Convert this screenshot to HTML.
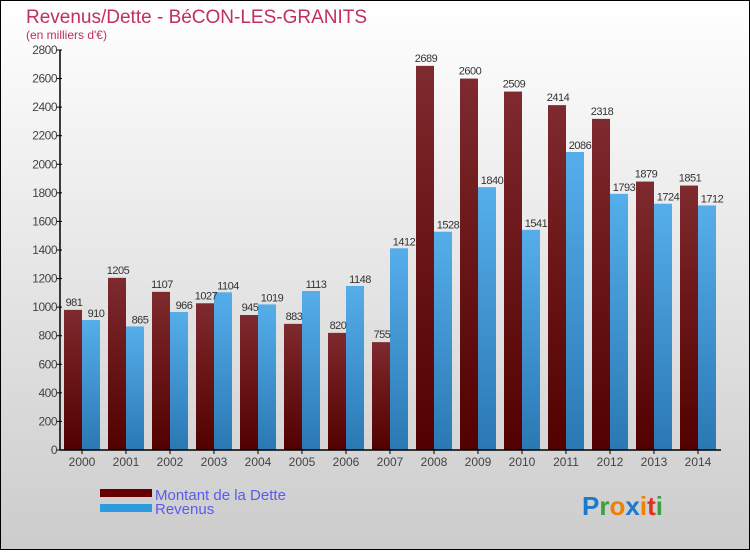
<!DOCTYPE html>
<html><head><meta charset="utf-8"><style>
body{margin:0}
svg text{font-family:"Liberation Sans",sans-serif}
</style></head><body>
<svg width="750" height="550" xmlns="http://www.w3.org/2000/svg">
<defs>
<linearGradient id="bg" x1="0" y1="0" x2="0" y2="1"><stop offset="0" stop-color="#ffffff"/><stop offset="1" stop-color="#cccccc"/></linearGradient>
<linearGradient id="gd" x1="0" y1="0" x2="0" y2="1"><stop offset="0" stop-color="#7f2a2e"/><stop offset="1" stop-color="#520000"/></linearGradient>
<linearGradient id="gr" x1="0" y1="0" x2="0" y2="1"><stop offset="0" stop-color="#55aeea"/><stop offset="1" stop-color="#2a78b4"/></linearGradient>
</defs>
<rect x="0.5" y="0.5" width="749" height="549" fill="url(#bg)" stroke="#000"/>
<text x="26" y="23" font-size="19" fill="#c0305a">Revenus/Dette - BéCON-LES-GRANITS</text>
<text x="26" y="39" font-size="12" fill="#c0305a">(en milliers d'€)</text>
<g id="bars"></g>
<g id="axes"></g>
<rect x="100" y="489" width="52" height="8" fill="#660000"/>
<text x="155" y="500" font-size="15" fill="#5a5aee">Montant de la Dette</text>
<rect x="100" y="504" width="52" height="8" fill="#2d9be0"/>
<text x="155" y="514" font-size="15" fill="#5a5aee">Revenus</text>
<text x="582" y="515" font-size="26" font-weight="bold"><tspan fill="#1a7ad0">P</tspan><tspan fill="#3aa040">r</tspan><tspan fill="#f08000">o</tspan><tspan fill="#1a7ad0">x</tspan><tspan fill="#f08000">i</tspan><tspan fill="#e03020">t</tspan><tspan fill="#3aa040">i</tspan></text>
</svg>
<script>
const years=["2000","2001","2002","2003","2004","2005","2006","2007","2008","2009","2010","2011","2012","2013","2014"];
const dette=[981,1205,1107,1027,945,883,820,755,2689,2600,2509,2414,2318,1879,1851];
const revenus=[910,865,966,1104,1019,1113,1148,1412,1528,1840,1541,2086,1793,1724,1712];
const ticks=[0,200,400,600,800,1000,1200,1400,1600,1800,2000,2200,2400,2600,2800];
const NS="http://www.w3.org/2000/svg";
const x0=60,gw=44,yb=450,yt=50,ymax=2800;
const y=v=>yb-(v/ymax)*(yb-yt);
const bars=document.getElementById('bars'),axes=document.getElementById('axes');
function mk(tag,attrs,parent){const e=document.createElementNS(NS,tag);for(const k in attrs)e.setAttribute(k,attrs[k]);parent.appendChild(e);return e;}
years.forEach((yr,i)=>{
  const gx=x0+i*gw;
  let r=mk('rect',{x:gx+4,y:y(dette[i]),width:18,height:yb-y(dette[i]),fill:'url(#gd)'},bars);
  
  
  r=mk('rect',{x:gx+22,y:y(revenus[i]),width:18,height:yb-y(revenus[i]),fill:'url(#gr)'},bars);
  
  
  let t=mk('text',{x:gx+14,y:y(dette[i])-4,'font-size':11,fill:'#333','text-anchor':'middle','letter-spacing':'-0.5'},bars);t.textContent=dette[i];
  
  
  t=mk('text',{x:gx+36,y:y(revenus[i])-3,'font-size':11,fill:'#333','text-anchor':'middle','letter-spacing':'-0.5'},bars);t.textContent=revenus[i];
  
  
  mk('line',{x1:gx+22,x2:gx+22,y1:yb,y2:yb+4,stroke:'#000'},axes);
  t=mk('text',{x:gx+22,y:yb+16,'font-size':12,fill:'#444','text-anchor':'middle'},axes);t.textContent=yr;
  
  
});
ticks.forEach(v=>{
  mk('line',{x1:x0-3,x2:x0+2,y1:y(v),y2:y(v),stroke:'#000'},axes);
  const t=mk('text',{x:x0-3,y:y(v)+4,'font-size':12,fill:'#444','text-anchor':'end','letter-spacing':'-0.5'},axes);t.textContent=v;
  
  
});
let l=mk('line',{x1:x0,x2:x0,y1:yt,y2:yb,stroke:'#000','stroke-width':1.5},axes);


l=mk('line',{x1:x0,x2:x0+gw*15+1,y1:yb,y2:yb,stroke:'#000','stroke-width':1.5},axes);


</script>
</body></html>
